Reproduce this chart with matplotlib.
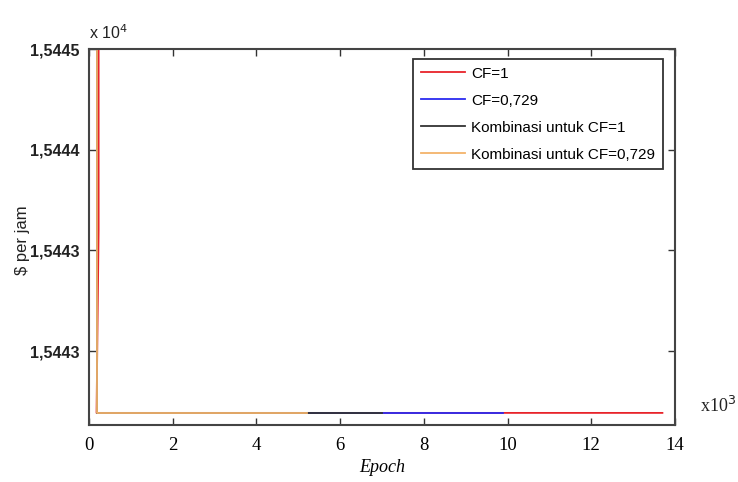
import matplotlib
matplotlib.use("Agg")
import matplotlib.pyplot as plt

# epochs are in thousands (axis shows x10^3), cost in $ per jam
red_epoch = [0.23, 0.23, 0.18, 13.7]
red_cost = [15446.0, 15443.56, 15442.109, 15442.109]
blue_epoch = [0.18, 0.18, 9.9]
blue_cost = [15446.0, 15442.109, 15442.109]
black_epoch = [0.18, 0.18, 7.0]
black_cost = [15446.0, 15442.109, 15442.109]
orange_epoch = [0.18, 0.18, 5.2]
orange_cost = [15446.0, 15442.109, 15442.109]

labels = ["CF=1", "CF=0,729", "Kombinasi untuk CF=1", "Kombinasi untuk CF=0,729"]
colors = ["#e8232a", "#2b2bf0", "#333333", "#f3b36a"]

x_ticks = [0, 2, 4, 6, 8, 10, 12, 14]
y_ticks = [15445.0, 15444.2, 15443.4, 15442.6]
y_tick_labels = ["1,5445", "1,5444", "1,5443", "1,5443"]

sans = ["Liberation Sans", "DejaVu Sans"]
serif = ["Liberation Serif", "DejaVu Serif"]

fig = plt.figure(figsize=(7.38, 4.82), dpi=100)
ax = fig.add_axes([0.1206, 0.1183, 0.794, 0.780])

series = [(red_epoch, red_cost), (blue_epoch, blue_cost),
          (black_epoch, black_cost), (orange_epoch, orange_cost)]
for (xs, ys), c, lab in zip(series, colors, labels):
    ax.plot(xs, ys, color=c, lw=1.3, label=lab)

ax.set_xlim(0, 14)
ax.set_ylim(15442.013, 15445.0)

ax.set_xticks(x_ticks)
ax.set_xticklabels([str(t) for t in x_ticks], family=serif, fontsize=13.5)
ax.set_yticks(y_ticks)
ax.set_yticklabels(y_tick_labels, family=sans, fontsize=11.5, fontweight="bold",
                   color="#222222")

ax.tick_params(direction="in", top=True, right=True, length=5, width=1,
               color="#333333")
ax.tick_params(axis="x", pad=9)
ax.tick_params(axis="y", pad=7)
for s in ax.spines.values():
    s.set_color("#444444")
    s.set_linewidth(1.5)

ax.set_xlabel("Epoch", family=serif, style="italic", fontsize=13, labelpad=3)
fig.text(23 / 738, 1 - 240 / 482, "\\$ per jam", family=sans, fontsize=12,
         rotation=90, ha="center", va="center", color="#222222")

fig.text(89 / 738, 1 - 42 / 482, "x 10$^4$", family=sans, fontsize=11.5,
         ha="left", va="bottom", color="#222222")
fig.text(700 / 738, 1 - 416 / 482, "x10$^3$", family=serif, fontsize=13,
         ha="left", va="bottom", color="#222222")

leg = ax.legend(loc="upper right", bbox_to_anchor=(0.9795, 0.9734),
                prop={"family": sans, "size": 11}, fancybox=False,
                framealpha=1, edgecolor="#333333", handlelength=2.9,
                handletextpad=0.4, borderpad=0.5, labelspacing=0.85,
                borderaxespad=0)
leg.get_frame().set_linewidth(1.3)

fig.savefig("out.png", dpi=100)
